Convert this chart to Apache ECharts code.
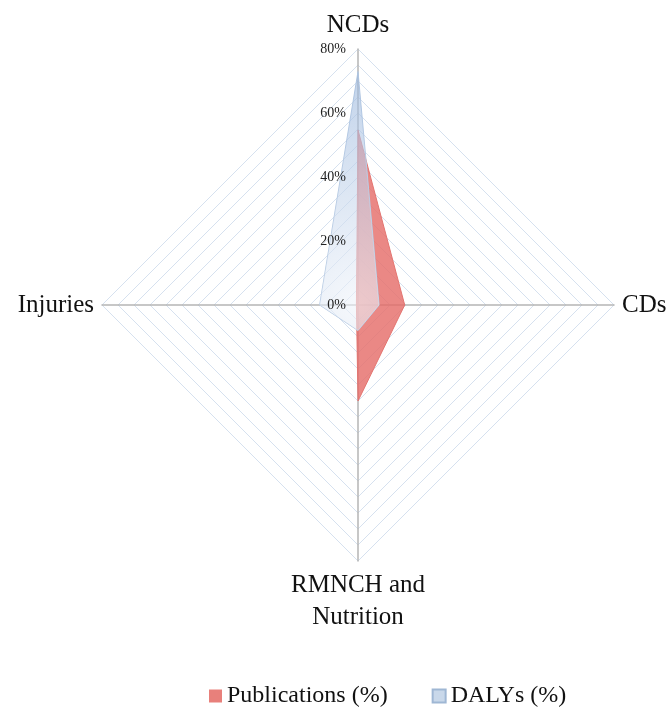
<!DOCTYPE html>
<html>
<head>
<meta charset="utf-8">
<script src="https://cdn.jsdelivr.net/npm/echarts@6/dist/echarts.min.js"></script>
<style>html,body{margin:0;padding:0;background:#fff}#c{width:668px;height:710px}</style>
</head>
<body>
<div id="c"></div>
<script>
var categories = ['NCDs', 'Injuries', 'RMNCH and\nNutrition', 'CDs'];
var axisMax = 80;
var publications = [54.7, 0.5, 30, 14.6];
var dalys = [73, 12, 8, 6.6];
var tickValues = [0, 20, 40, 60, 80];
var seriesNames = ['Publications (%)', 'DALYs (%)'];

var chart = echarts.init(document.getElementById('c'));
var cx = 358, cy = 305, R = 256;
var serif = 'Liberation Serif';
chart.setOption({
  animation: false,
  legend: {
    top: 679,
    left: 204,
    icon: 'rect',
    itemWidth: 13,
    itemHeight: 13,
    itemGap: 44,
    data: seriesNames,
    textStyle: { fontFamily: serif, fontSize: 24, color: '#111' }
  },
  radar: {
    center: [cx, cy],
    radius: R,
    startAngle: 90,
    shape: 'polygon',
    splitNumber: 16,
    indicator: categories.map(function (n) { return { name: n, max: axisMax, min: 0 }; }),
    axisName: { fontFamily: serif, fontSize: 25, color: '#111', lineHeight: 32 },
    nameGap: 8,
    axisLine: { lineStyle: { color: '#b5b5b5', width: 1.5 } },
    splitLine: { lineStyle: { color: '#d6e1ef', width: 1 } },
    splitArea: { show: false },
    axisLabel: { show: false }
  },
  polar: { center: [cx, cy], radius: R },
  angleAxis: { show: false, startAngle: 90, min: 0, max: 360 },
  radiusAxis: {
    min: 0, max: axisMax, interval: 20, z: 10,
    axisLine: { show: false }, axisTick: { show: false }, splitLine: { show: false },
    axisLabel: {
      show: true, formatter: '{value}%', fontFamily: serif, fontSize: 14, color: '#222', margin: 12
    }
  },
  series: [
    {
      type: 'radar',
      name: seriesNames[0],
      symbol: 'none',
      lineStyle: { color: '#e27b76', width: 1 },
      itemStyle: { color: '#e8807b' },
      areaStyle: { color: 'rgba(229,110,106,0.82)', opacity: 1 },
      data: [{ value: publications, name: seriesNames[0] }],
      z: 2
    },
    {
      type: 'radar',
      name: seriesNames[1],
      symbol: 'none',
      lineStyle: { color: '#b5c9e2', width: 1 },
      itemStyle: { color: '#c9d8ea', borderColor: '#9fb7d4', borderWidth: 1 },
      areaStyle: {
        opacity: 1,
        color: new echarts.graphic.RadialGradient(cx, cy, 240, [
          { offset: 0, color: 'rgba(240,244,250,0.6)' },
          { offset: 1, color: 'rgba(150,180,220,0.6)' }
        ], true)
      },
      data: [{ value: dalys, name: seriesNames[1] }],
      z: 3
    }
  ]
});
</script>
</body>
</html>
